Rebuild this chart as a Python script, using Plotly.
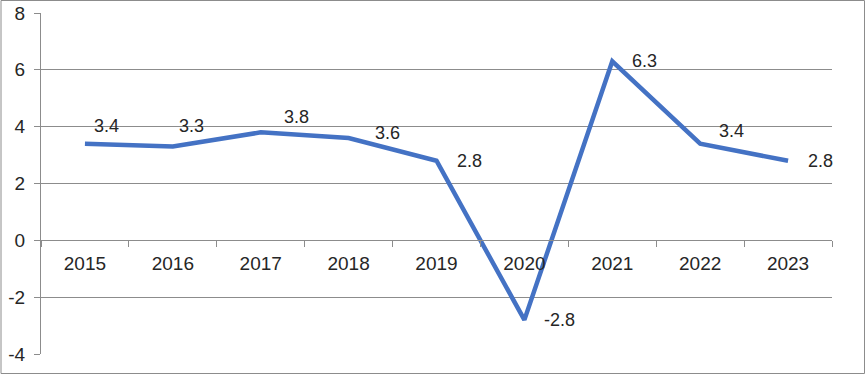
import plotly.graph_objects as go

# ---- data ----
years = ["2015", "2016", "2017", "2018", "2019", "2020", "2021", "2022", "2023"]
growth = [3.4, 3.3, 3.8, 3.6, 2.8, -2.8, 6.3, 3.4, 2.8]
y_ticks = [-4, -2, 0, 2, 4, 6, 8]
y_tick_labels = ["-4", "-2", "0", "2", "4", "6", "8"]

# ---- style ----
W, H = 866, 375
L, R, T, B = 41, 34, 13, 21
GRID = "#8c8c8c"
TXT = "#262626"
LINE = "#4472C4"
FONT = "Liberation Sans, Arial, sans-serif"
# label offsets (px) relative to each point: (xshift, yshift)
label_off = [(7, 18), (4, 21), (21, 15), (24, 5), (18, 0), (18, 0), (18, 0), (17, 13), (18, 0)]

fig = go.Figure()
fig.add_trace(go.Scatter(
    x=years, y=growth, mode="lines",
    line=dict(color=LINE, width=4.5, shape="linear"),
    hoverinfo="skip", showlegend=False,
))

# category axis: annotation x given as category index
for i, (v, (dx, dy)) in enumerate(zip(growth, label_off)):
    fig.add_annotation(
        x=i, y=v, xref="x", yref="y", text=f"{v:g}", showarrow=False,
        xanchor="left", yanchor="middle", xshift=dx, yshift=dy,
        font=dict(family=FONT, size=18, color=TXT),
    )

pw = W - L - R
ph = H - T - B
def px_x(p):
    return (p - L) / pw
def px_y(p):
    return (H - B - p) / ph

fig.add_shape(type="rect", xref="paper", yref="paper",
              x0=px_x(1), x1=px_x(W - 1.5),
              y0=px_y(H - 1.5), y1=px_y(0.5),
              line=dict(color=GRID, width=1), fillcolor="rgba(0,0,0,0)", layer="below")

ymin, ymax = y_ticks[0], y_ticks[-1]
fig.update_layout(
    template="none",
    width=W, height=H,
    margin=dict(l=L, r=R, t=T, b=B, pad=0),
    paper_bgcolor="white", plot_bgcolor="white",
    font=dict(family=FONT, color=TXT),
    xaxis=dict(
        type="category", range=[-0.5, len(years) - 0.5],
        anchor="free", position=(0 - ymin) / (ymax - ymin),
        automargin=False,
        showline=True, linecolor=GRID, linewidth=1,
        ticks="outside", tickson="boundaries", ticklen=6, tickcolor=GRID, tickwidth=1,
        showgrid=False, zeroline=False,
        tickfont=dict(family=FONT, size=19, color=TXT),
        ticklabelstandoff=6,
    ),
    yaxis=dict(
        range=[ymin, ymax], tickvals=y_ticks, ticktext=y_tick_labels,
        automargin=False,
        showline=True, linecolor=GRID, linewidth=1,
        ticks="outside", ticklen=6, tickcolor=GRID, tickwidth=1,
        showgrid=True, gridcolor=GRID, gridwidth=1,
        zeroline=False,
        tickfont=dict(family=FONT, size=19, color=TXT),
        ticklabelstandoff=5,
    ),
)

fig.write_html("out.html", config={"displayModeBar": False},
               post_script="document.body.style.margin='0';")
